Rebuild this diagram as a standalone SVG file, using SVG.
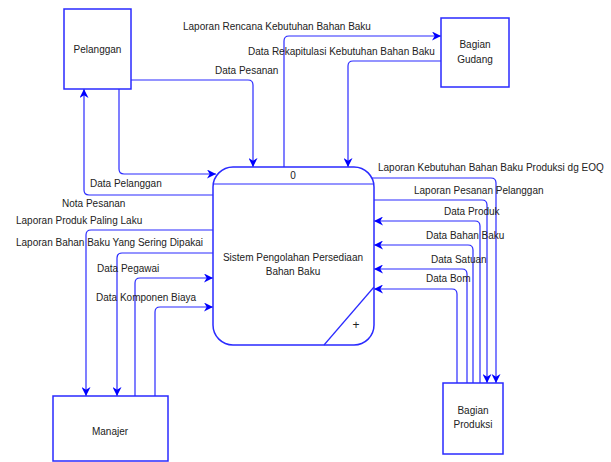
<svg xmlns="http://www.w3.org/2000/svg" width="611" height="462" viewBox="0 0 611 462">
<style>
.box{fill:#fff;stroke:#2a2aff;stroke-width:1.5}
.ln{fill:none;stroke:#2a2aff;stroke-width:1.2}
.arr{marker-end:url(#ah)}
text{font-family:"Liberation Sans",Arial,sans-serif;font-size:10px;fill:#222}
.c{text-anchor:middle}
</style>
<defs>
<marker id="ah" viewBox="0 0 10 10" refX="10" refY="5" markerWidth="9" markerHeight="9" markerUnits="userSpaceOnUse" orient="auto">
<path d="M0,0 L10,5 L0,10 L3,5 z" fill="#0000ff"/>
</marker>
</defs>
<rect width="611" height="462" fill="#fff"/>
<g id="connectors">
<path class="ln arr" d="M131,80 H248 Q253,80 253,85 V167"/>
<path class="ln arr" d="M119,89 V169 Q119,174 124,174 H216"/>
<path class="ln arr" d="M213,195 H89 Q84,195 84,190 V89"/>
<path class="ln arr" d="M284,167 V41 Q284,36 289,36 H441"/>
<path class="ln arr" d="M441,61 H353 Q348,61 348,66 V167"/>
<path class="ln arr" d="M372,178 H491 Q496,178 496,183 V383"/>
<path class="ln arr" d="M374,200 H482 Q487,200 487,205 V383"/>
<path class="ln arr" d="M480,383 V226 Q480,221 475,221 H374"/>
<path class="ln arr" d="M473,383 V250 Q473,245 468,245 H374"/>
<path class="ln arr" d="M467,383 V274 Q467,269 462,269 H374"/>
<path class="ln arr" d="M457,383 V294 Q457,289 452,289 H374"/>
<path class="ln arr" d="M213,230 H91 Q86,230 86,235 V396"/>
<path class="ln arr" d="M213,253 H122 Q117,253 117,258 V396"/>
<path class="ln arr" d="M135,396 V283 Q135,278 140,278 H213"/>
<path class="ln arr" d="M155,396 V312 Q155,307 160,307 H213"/>
<text x="183" y="30">Laporan Rencana Kebutuhan Bahan Baku</text>
<text x="248" y="55">Data Rekapitulasi Kebutuhan Bahan Baku</text>
<text x="215" y="74">Data Pesanan</text>
<text x="90" y="187">Data Pelanggan</text>
<text x="62" y="207">Nota Pesanan</text>
<text x="16" y="224">Laporan Produk Paling Laku</text>
<text x="16" y="246">Laporan Bahan Baku Yang Sering Dipakai</text>
<text x="97" y="272">Data Pegawai</text>
<text x="96" y="301">Data Komponen Biaya</text>
<text x="378" y="171">Laporan Kebutuhan Bahan Baku Produksi dg EOQ</text>
<text x="414" y="194">Laporan Pesanan Pelanggan</text>
<text x="444" y="215">Data Produk</text>
<text x="426" y="239">Data Bahan Baku</text>
<text x="431" y="263">Data Satuan</text>
<text x="426" y="282">Data Bom</text>
</g>
<g id="pelanggan">
<rect class="box" x="64" y="9" width="67" height="80"/>
<text class="c" x="97.5" y="53">Pelanggan</text>
</g>
<g id="gudang">
<rect class="box" x="441" y="18" width="68" height="69"/>
<text class="c" x="475" y="48">Bagian</text>
<text class="c" x="475" y="63">Gudang</text>
</g>
<g id="proses">
<rect class="box" x="213" y="167" width="161" height="178" rx="20" ry="20"/>
<line class="ln" x1="213" y1="184" x2="374" y2="184"/>
<line class="ln" x1="374" y1="287" x2="324" y2="345" stroke-width="1"/>
<text class="c" x="293" y="179">0</text>
<text class="c" x="293" y="261">Sistem Pengolahan Persediaan</text>
<text class="c" x="293" y="275">Bahan Baku</text>
<text class="c" x="356" y="329" style="font-size:12px">+</text>
</g>
<g id="manajer">
<rect class="box" x="53" y="396" width="115" height="65"/>
<text class="c" x="110" y="435">Manajer</text>
</g>
<g id="produksi">
<rect class="box" x="443" y="383" width="60" height="71"/>
<text class="c" x="473" y="414">Bagian</text>
<text class="c" x="473" y="428">Produksi</text>
</g>
</svg>
